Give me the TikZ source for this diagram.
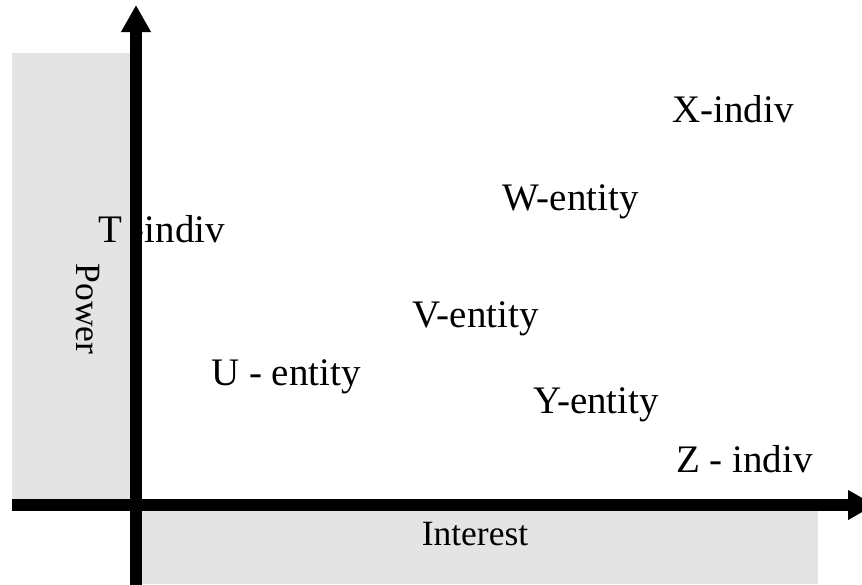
\documentclass[tikz,border=0pt]{standalone}
\usepackage{fontspec}
\setmainfont{Liberation Serif}
\usetikzlibrary{arrows.meta}
\definecolor{panelgray}{RGB}{228,228,228}
\tikzset{
  lbl/.style={anchor=base west, inner sep=0pt, font=\fontsize{39}{41}\selectfont},
  axlbl/.style={inner sep=0pt, font=\fontsize{35.5}{37}\selectfont},
  axisline/.style={line width=12pt, -{Triangle[length=27pt,width=28pt]}},
  panel/.style={fill=panelgray, draw=none}
}
\begin{document}
\begin{tikzpicture}[x=1pt, y=-1pt]
\useasboundingbox (0,0) rectangle (862,584);
% gray panels
\fill[panel] (12,53) rectangle (130,499);
\fill[panel] (130,511) rectangle (818,584);
% labels
\node[lbl] (x) at (672,122) {X-indiv};
\node[lbl] (w) at (502,210) {W-entity};
\node[lbl] (t) at (98,242) {T -indiv};
\node[lbl] (v) at (412,327) {V-entity};
\node[lbl] (u) at (211,385) {U - entity};
\node[lbl] (y) at (533,413) {Y-entity};
\node[lbl] (z) at (676,472) {Z - indiv};
\node[axlbl, anchor=base] (int) at (475,545) {Interest};
\node[axlbl, rotate=-90] (pow) at (88,309) {Power};
% axes
\coordinate (vbot) at (136,600);
\coordinate (vtop) at (136,5);
\coordinate (hl) at (12,505);
\coordinate (hr) at (875,505);
\draw[axisline] (vbot) -- (vtop);
\draw[axisline] (hl) -- (hr);
\end{tikzpicture}
\end{document}
